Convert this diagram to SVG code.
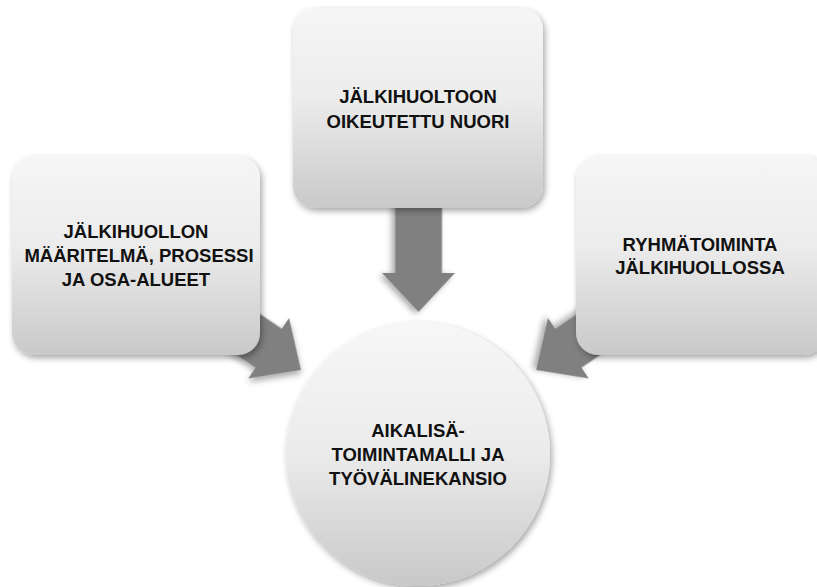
<svg xmlns="http://www.w3.org/2000/svg" width="817" height="587" viewBox="0 0 817 587">
<defs>
<linearGradient id="gBox" x1="0" y1="0" x2="0" y2="1">
<stop offset="0" stop-color="#f6f6f6"/>
<stop offset="0.45" stop-color="#ececec"/>
<stop offset="1" stop-color="#c9c9c9"/>
</linearGradient>
<linearGradient id="gCircle" x1="0" y1="0" x2="0" y2="1">
<stop offset="0" stop-color="#f7f7f7"/>
<stop offset="0.5" stop-color="#ebebeb"/>
<stop offset="1" stop-color="#c8c8c8"/>
</linearGradient>
<filter id="shadow" x="-20%" y="-20%" width="140%" height="140%">
<feDropShadow dx="2" dy="3" stdDeviation="3" flood-color="#000" flood-opacity="0.35"/>
</filter>
<path id="arrow" d="M-122,-23.5 L-39,-23.5 L-39,-36.5 L0,0 L-39,36.5 L-39,23.5 L-122,23.5 Z"/>
</defs>
<style>
.box{fill:url(#gBox);filter:url(#shadow);}
.circ{fill:url(#gCircle);filter:url(#shadow);}
.arr{fill:#808080;filter:url(#shadow);}
.lbl{font-family:"Liberation Sans",Arial,sans-serif;font-weight:bold;font-size:18.5px;fill:#111;text-anchor:middle;}
</style>
<g id="connectors">
<use href="#arrow" class="arr" transform="translate(418.5,312) rotate(90)"/>
<use href="#arrow" class="arr" transform="translate(301,370) rotate(34)"/>
<use href="#arrow" class="arr" transform="translate(536,370) rotate(146)"/>
</g>
<g id="node-top">
<rect class="box" x="293" y="8" width="250" height="200" rx="22"/>
<text class="lbl" x="418" y="103">JÄLKIHUOLTOON</text>
<text class="lbl" x="418" y="128">OIKEUTETTU NUORI</text>
</g>
<g id="node-left">
<rect class="box" x="12" y="156" width="248" height="199" rx="22"/>
<text class="lbl" x="136" y="238">JÄLKIHUOLLON</text>
<text class="lbl" x="139" y="262">MÄÄRITELMÄ, PROSESSI</text>
<text class="lbl" x="136" y="286">JA OSA-ALUEET</text>
</g>
<g id="node-right">
<rect class="box" x="576" y="156" width="250" height="199" rx="22"/>
<text class="lbl" x="700" y="251">RYHMÄTOIMINTA</text>
<text class="lbl" x="700" y="274">JÄLKIHUOLLOSSA</text>
</g>
<g id="node-center">
<circle class="circ" cx="418" cy="454" r="132"/>
<text class="lbl" x="418" y="437">AIKALISÄ-</text>
<text class="lbl" x="418" y="461">TOIMINTAMALLI JA</text>
<text class="lbl" x="418" y="485">TYÖVÄLINEKANSIO</text>
</g>
</svg>
